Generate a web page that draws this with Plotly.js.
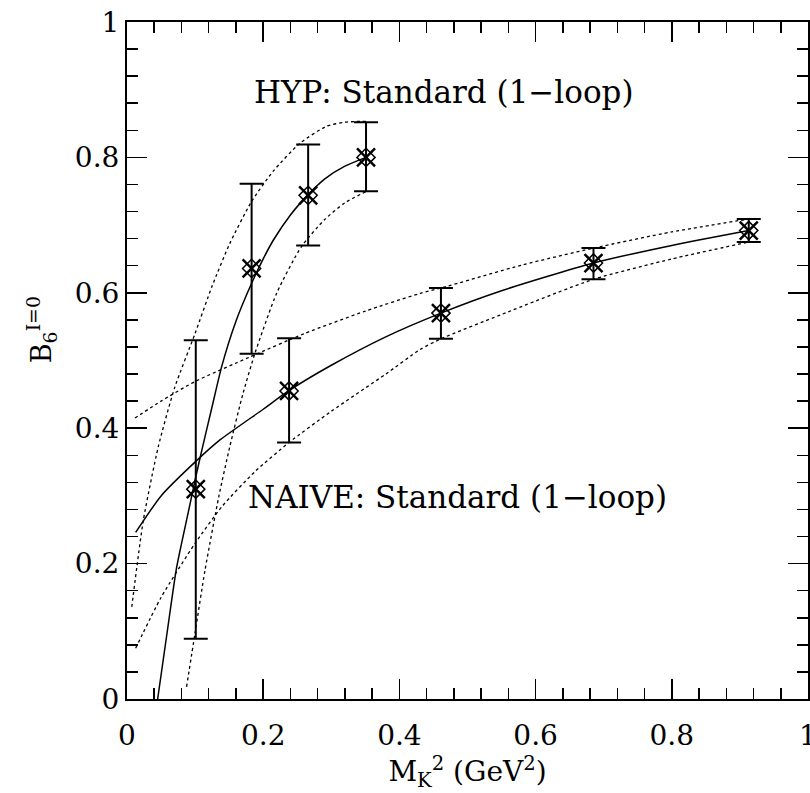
<!DOCTYPE html>
<html>
<head>
<meta charset="utf-8">
<script src="https://cdn.plot.ly/plotly-3.0.1.min.js"></script>
<style>html,body{margin:0;padding:0;background:#fff;}#chart{width:810px;height:793px;}</style>
</head>
<body>
<div id="chart"></div>
<script>
// Data points
const hypX = [0.101, 0.183, 0.266, 0.351];
const hypY = [0.310, 0.636, 0.744, 0.800];
const hypErrPlus = [0.220, 0.125, 0.075, 0.052];
const hypErrMinus = [0.221, 0.126, 0.074, 0.050];

const naiveX = [0.238, 0.461, 0.685, 0.913];
const naiveY = [0.455, 0.570, 0.644, 0.692];
const naiveErrPlus = [0.078, 0.037, 0.022, 0.017];
const naiveErrMinus = [0.076, 0.038, 0.024, 0.017];

// Fit curves
const hypFitX = [0.045, 0.06, 0.073, 0.09, 0.101, 0.11, 0.125, 0.139, 0.16, 0.183, 0.20, 0.215, 0.24, 0.266, 0.29, 0.32, 0.351];
const hypFitY = [0.0, 0.106, 0.195, 0.276, 0.328, 0.368, 0.432, 0.491, 0.558, 0.614, 0.650, 0.678, 0.715, 0.745, 0.768, 0.787, 0.800];
const hypUpX = [0.007, 0.024, 0.046, 0.07, 0.1, 0.125, 0.151, 0.183, 0.215, 0.254, 0.293, 0.32, 0.337, 0.352];
const hypUpY = [0.136, 0.264, 0.373, 0.46, 0.540, 0.61, 0.673, 0.735, 0.780, 0.821, 0.846, 0.852, 0.853, 0.853];
const hypLoX = [0.0875, 0.1, 0.1145, 0.135, 0.151, 0.17, 0.188, 0.22, 0.256, 0.29, 0.32, 0.352];
const hypLoY = [0.018, 0.098, 0.19, 0.30, 0.373, 0.45, 0.511, 0.60, 0.668, 0.708, 0.733, 0.750];

const naiveFitX = [0.0127, 0.05, 0.101, 0.137, 0.2, 0.237, 0.3, 0.38, 0.461, 0.55, 0.685, 0.8, 0.913];
const naiveFitY = [0.246, 0.300, 0.351, 0.383, 0.428, 0.455, 0.493, 0.535, 0.570, 0.603, 0.644, 0.670, 0.692];
const naiveUpX = [0.0117, 0.05, 0.1, 0.18, 0.261, 0.35, 0.43, 0.461, 0.58, 0.685, 0.8, 0.913];
const naiveUpY = [0.415, 0.440, 0.469, 0.505, 0.540, 0.573, 0.599, 0.607, 0.641, 0.666, 0.690, 0.709];
const naiveLoX = [0.0127, 0.05, 0.1, 0.14, 0.188, 0.238, 0.3, 0.38, 0.43, 0.461, 0.55, 0.685, 0.8, 0.913];
const naiveLoY = [0.075, 0.150, 0.230, 0.285, 0.336, 0.379, 0.425, 0.480, 0.516, 0.532, 0.568, 0.620, 0.650, 0.675];

const xTicks = [0, 0.2, 0.4, 0.6, 0.8, 1];
const xTickText = ['0', '0.2', '0.4', '0.6', '0.8', '1'];
const yTicks = [0, 0.2, 0.4, 0.6, 0.8, 1];
const yTickText = ['0', '0.2', '0.4', '0.6', '0.8', '1'];

const FONT = 'DejaVu Serif, Liberation Serif, serif';
const solid = {color: '#000', width: 1.5, shape: 'spline', smoothing: 0.6};
const dotted = {color: '#000', width: 1.3, dash: 'dot', shape: 'spline', smoothing: 0.6};

function line(x, y, l) { return {x, y, mode: 'lines', line: l, hoverinfo: 'skip', showlegend: false}; }
function pts(x, y, ep, em) {
  return [{
    x, y, mode: 'markers', showlegend: false,
    error_y: {type: 'data', symmetric: false, array: ep, arrayminus: em, color: '#000', thickness: 2, width: 12},
    marker: {symbol: 'x-thin-open', size: 18, color: '#000', line: {color: '#000', width: 2.5}}
  }, {
    x, y, mode: 'markers', showlegend: false,
    marker: {symbol: 'diamond-open', size: 14, color: '#000', line: {color: '#000', width: 1.5}}
  }];
}

const data = [
  line(hypFitX, hypFitY, solid), line(hypUpX, hypUpY, dotted), line(hypLoX, hypLoY, dotted),
  line(naiveFitX, naiveFitY, solid), line(naiveUpX, naiveUpY, dotted), line(naiveLoX, naiveLoY, dotted),
  ...pts(hypX, hypY, hypErrPlus, hypErrMinus),
  ...pts(naiveX, naiveY, naiveErrPlus, naiveErrMinus)
];

const axisCommon = {
  showgrid: false, zeroline: false, showline: true, linecolor: '#000', linewidth: 2,
  mirror: 'allticks', ticks: 'inside', ticklen: 20, tickwidth: 1.5, tickcolor: '#000',
  tickfont: {family: FONT, size: 28, color: '#000'},
  ticklabeloverflow: 'allow',
  minor: {dtick: 0.04, ticks: 'inside', ticklen: 11, tickwidth: 1.5, tickcolor: '#000'}
};

const layout = {
  width: 810, height: 793,
  margin: {l: 127, r: 2, t: 22, b: 94},
  paper_bgcolor: '#fff', plot_bgcolor: '#fff',
  font: {family: FONT, color: '#000'},
  xaxis: Object.assign({}, axisCommon, {
    range: [0, 1], tickvals: xTicks, ticktext: xTickText, ticklabelstandoff: 10,
    title: {text: 'M<sub>K</sub><sup>2</sup> (GeV<sup>2</sup>)', font: {family: FONT, size: 28, color: '#000'}, standoff: 2}
  }),
  yaxis: Object.assign({}, axisCommon, {
    range: [0, 1], tickvals: yTicks, ticktext: yTickText
  }),
  annotations: [
    {x: -0.126, y: 0.545, xref: 'paper', yref: 'paper', textangle: -90, text: 'B<sub>6</sub><sup>I=0</sup>', showarrow: false,
     xanchor: 'center', yanchor: 'middle', font: {family: FONT, size: 27, color: '#000'}},
    {x: 0.466, y: 0.897, xref: 'x', yref: 'y', text: 'HYP: Standard (1\u2212loop)', showarrow: false,
     font: {family: FONT, size: 31, color: '#000'}},
    {x: 0.485, y: 0.298, xref: 'x', yref: 'y', text: 'NAIVE: Standard (1\u2212loop)', showarrow: false,
     font: {family: FONT, size: 31, color: '#000'}}
  ]
};

Plotly.newPlot('chart', data, layout, {displayModeBar: false, staticPlot: true});
</script>
</body>
</html>
